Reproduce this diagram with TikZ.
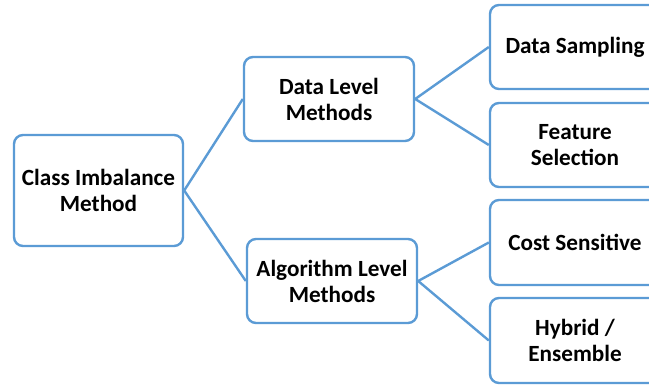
\documentclass[tikz,border=0pt]{standalone}
\usepackage{fontspec}
\setmainfont{Carlito}
\begin{document}
\begin{tikzpicture}[x=1pt,y=-1pt,
  box/.style={draw=linkblue, line width=2.4pt, rounded corners=9pt, fill=white,
    align=center, font=\bfseries\fontsize{23.2}{26}\selectfont,
    minimum width=170pt, minimum height=84pt, inner sep=0pt},
  link/.style={draw=linkblue, line width=2.4pt}]
\definecolor{linkblue}{HTML}{5B9BD5}
\useasboundingbox (0,0) rectangle (649,385);
% tree nodes
\node[box, minimum width=169pt, minimum height=111pt] (root) at (98.5,190.5) {Class Imbalance\\Method};
\node[box] (dl) at (329,99) {Data Level\\Methods};
\node[box] (al) at (332,281) {Algorithm Level\\Methods};
\node[box] (ds) at (575,47) {Data Sampling};
\node[box] (fs) at (575,145) {Feature\\Selection};
\node[box, minimum height=85pt] (cs) at (575,242.5) {Cost Sensitive};
\node[box, minimum height=85pt] (he) at (575,340.5) {Hybrid /\\Ensemble};
% connectors
\draw[link] (root.east) -- (dl.west);
\draw[link] (root.east) -- (al.west);
\draw[link] (dl.east) -- (ds.west);
\draw[link] (dl.east) -- (fs.west);
\draw[link] (al.east) -- (cs.west);
\draw[link] (al.east) -- (he.west);
\end{tikzpicture}
\end{document}
